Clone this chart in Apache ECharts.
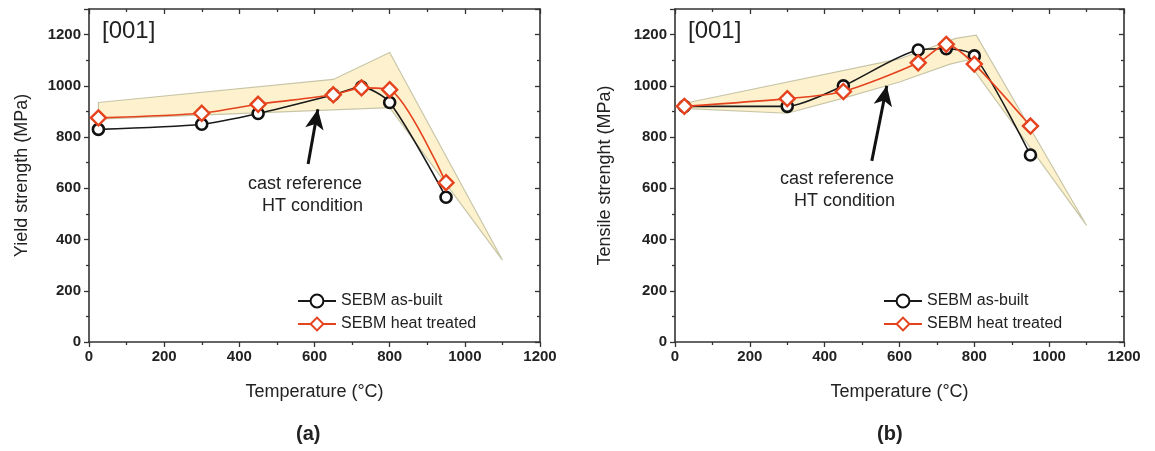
<!DOCTYPE html>
<html>
<head>
<meta charset="utf-8">
<script src="https://cdn.jsdelivr.net/npm/echarts@6/dist/echarts.min.js"></script>
<style>
  html, body { margin: 0; padding: 0; background: #fff; }
  #main { width: 1155px; height: 451px; }
</style>
</head>
<body>
<div id="main"></div>
<script>
// temperatures of the SEBM test points (°C)
var temps = [25, 300, 450, 650, 725, 800, 950];

// (a) yield strength (MPa)
var yieldAsBuilt = [830, 850, 892, 965, 995, 935, 565];
var yieldHeat = [875, 893, 928, 965, 992, 985, 622];

// (b) tensile strength (MPa)
var tensileAsBuilt = [920, 920, 1000, 1140, 1145, 1117, 730];
var tensileHeat = [920, 950, 978, 1090, 1162, 1085, 843];

// cast reference HT condition band (outline, going round the polygon)
var castYieldX = [25, 650, 800, 1100, 800, 25];
var castYieldY = [935, 1025, 1130, 320, 915, 870];
var castTensileX = [20, 600, 750, 805, 1100, 780, 735, 600, 450, 300, 20];
var castTensileY = [930, 1105, 1185, 1198, 455, 1100, 1085, 1015, 952, 893, 912];

// arrows pointing at the band
var arrowA = [[583, 695], [609, 909]];
var arrowB = [[526, 707], [566, 1000]];

var names = ['SEBM as-built', 'SEBM heat treated'];

var FONT = '"Liberation Sans", Arial, sans-serif';
var axisCol = '#333';

var myChart = echarts.init(document.getElementById('main'));

function zip(xs, ys) {
    return xs.map(function (x, i) { return [x, ys[i]]; });
}

function bandSeries(xs, ys, xi, yi) {
    return {
        type: 'custom',
        xAxisIndex: xi,
        yAxisIndex: yi,
        silent: true,
        z: 1,
        data: [[xs[0], ys[0]]],
        renderItem: function (params, api) {
            var pts = xs.map(function (x, i) { return api.coord([x, ys[i]]); });
            return {
                type: 'polygon',
                shape: { points: pts },
                style: { fill: '#fdf2cd', stroke: '#c8c6a8', lineWidth: 1.2 }
            };
        }
    };
}

function lineSeries(name, data, xi, yi, isHeat, arrow) {
    var s = {
        type: 'line',
        name: name,
        xAxisIndex: xi,
        yAxisIndex: yi,
        data: data,
        smooth: 0.25,
        z: isHeat ? 4 : 3,
        symbol: isHeat ? 'diamond' : 'circle',
        symbolSize: isHeat ? 15 : 11,
        showAllSymbol: true,
        lineStyle: { color: isHeat ? '#e5421e' : '#1a1a1a', width: 1.6 },
        itemStyle: {
            color: '#fff',
            borderColor: isHeat ? '#e5421e' : '#111',
            borderWidth: isHeat ? 2.4 : 2.6
        }
    };
    if (arrow) {
        s.markLine = {
            silent: true,
            symbol: ['none', 'arrow'],
            symbolSize: [14, 20],
            label: { show: false },
            lineStyle: { color: '#111', width: 3, type: 'solid' },
            data: [[{ coord: arrow[0] }, { coord: arrow[1] }]]
        };
    }
    return s;
}

var tickStyle = { color: axisCol, width: 1.3 };
var lineStyleAx = { color: axisCol, width: 1.6 };

function xAxes(grid) {
    return [{
        gridIndex: grid, type: 'value', min: 0, max: 1200, interval: 200,
        name: 'Temperature (°C)', nameLocation: 'middle', nameGap: 41,
        nameTextStyle: { fontFamily: FONT, fontSize: 18, color: '#222' },
        axisLine: { onZero: false, lineStyle: lineStyleAx },
        axisTick: { inside: false, length: 5, lineStyle: tickStyle },
        minorTick: { show: true, splitNumber: 2, length: 3, lineStyle: tickStyle },
        axisLabel: { fontFamily: FONT, fontWeight: 'bold', fontSize: 15, color: '#222', margin: 7,
            formatter: function (v) { return String(v); } },
        splitLine: { show: false }
    }, {
        gridIndex: grid, type: 'value', min: 0, max: 1200, interval: 200, position: 'top',
        axisLine: { onZero: false, lineStyle: lineStyleAx },
        axisTick: { inside: true, length: 5, lineStyle: tickStyle },
        minorTick: { show: true, splitNumber: 2, length: 3, lineStyle: tickStyle },
        axisLabel: { show: false },
        splitLine: { show: false }
    }];
}

function yAxes(grid, name, gap) {
    return [{
        gridIndex: grid, type: 'value', min: 0, max: 1300, interval: 200,
        name: name, nameLocation: 'middle', nameGap: gap,
        nameTextStyle: { fontFamily: FONT, fontSize: 18, color: '#222' },
        axisLine: { onZero: false, lineStyle: lineStyleAx },
        axisTick: { inside: false, length: 5, lineStyle: tickStyle },
        minorTick: { show: true, splitNumber: 2, length: 3, lineStyle: tickStyle },
        axisLabel: { fontFamily: FONT, fontWeight: 'bold', fontSize: 15, color: '#222', margin: 8,
            showMaxLabel: false, formatter: function (v) { return String(v); } },
        splitLine: { show: false }
    }, {
        gridIndex: grid, type: 'value', min: 0, max: 1300, interval: 200, position: 'right',
        axisLine: { onZero: false, lineStyle: lineStyleAx },
        axisTick: { inside: true, length: 5, lineStyle: tickStyle },
        minorTick: { show: true, splitNumber: 2, length: 3, lineStyle: tickStyle },
        axisLabel: { show: false },
        splitLine: { show: false }
    }];
}

function legendAt(left) {
    return {
        orient: 'vertical', left: left, top: 288,
        data: names,
        itemWidth: 38, itemHeight: 16, itemGap: 7,
        textStyle: { fontFamily: FONT, fontSize: 16, color: '#222' },
        selectedMode: false
    };
}

function txt(x, y, text, size, weight, align) {
    return {
        type: 'text', left: x, top: y, silent: true,
        style: {
            text: text, fontFamily: FONT, fontSize: size, fontWeight: weight || 'normal',
            fill: '#222', textAlign: align || 'left', lineHeight: 22
        }
    };
}

var option = {
    animation: false,
    grid: [
        { left: 89, top: 9, width: 451, height: 333 },
        { left: 675, top: 9, width: 449, height: 333 }
    ],
    xAxis: xAxes(0).concat(xAxes(1)),
    yAxis: yAxes(0, 'Yield strength (MPa)', 58).concat(yAxes(1, 'Tensile strenght (MPa)', 61)),
    legend: [legendAt(292), legendAt(878)],
    series: [
        bandSeries(castYieldX, castYieldY, 0, 0),
        lineSeries(names[0], zip(temps, yieldAsBuilt), 0, 0, false, arrowA),
        lineSeries(names[1], zip(temps, yieldHeat), 0, 0, true),
        bandSeries(castTensileX, castTensileY, 2, 2),
        lineSeries(names[0], zip(temps, tensileAsBuilt), 2, 2, false, arrowB),
        lineSeries(names[1], zip(temps, tensileHeat), 2, 2, true)
    ],
    graphic: [
        txt(102, 19, '[001]', 24),
        txt(688, 19, '[001]', 24),
        txt(248, 173, 'cast reference', 18),
        txt(262, 195, 'HT condition', 18),
        txt(780, 168, 'cast reference', 18),
        txt(794, 190, 'HT condition', 18),
        txt(296, 423, '(a)', 20, 'bold'),
        txt(877, 423, '(b)', 20, 'bold')
    ]
};

myChart.setOption(option);
</script>
</body>
</html>
